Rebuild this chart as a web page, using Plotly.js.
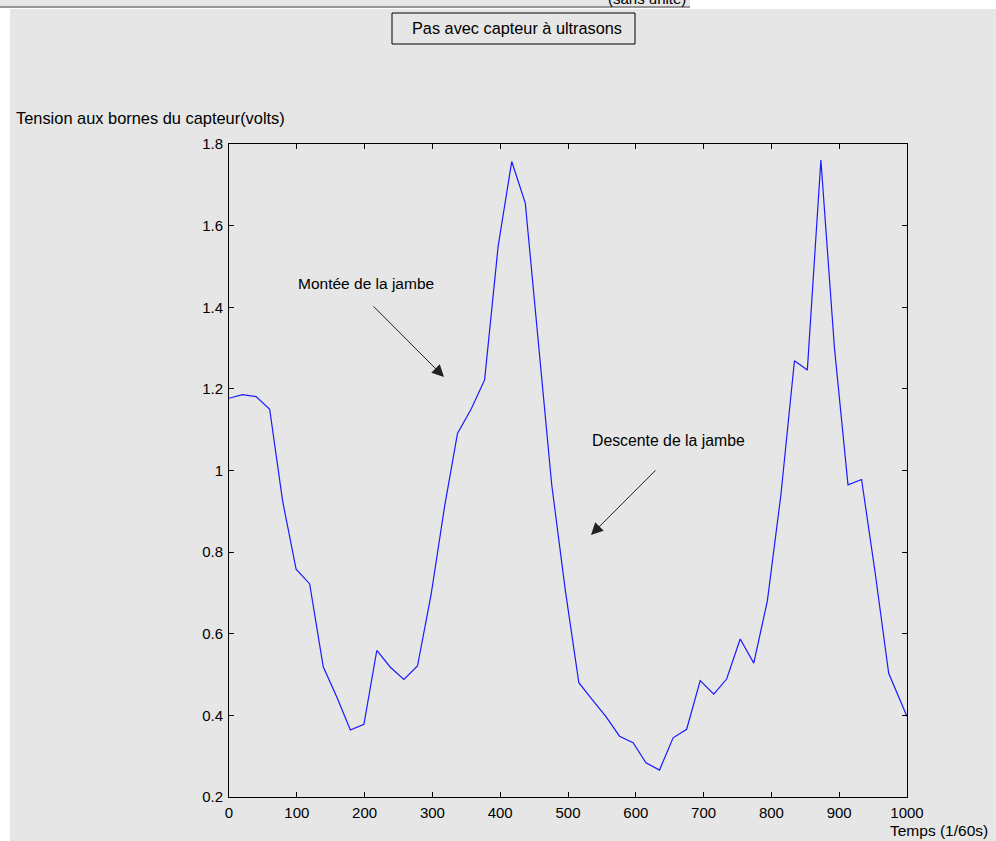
<!DOCTYPE html>
<html>
<head>
<meta charset="utf-8">
<script src="https://cdn.plot.ly/plotly-3.0.1.min.js"></script>
<style>html,body{margin:0;padding:0;background:#fff;}#chart{width:996px;height:841px;}</style>
</head>
<body>
<div id="chart"></div>
<script>
// ---- data ----
const timeValues = [0, 20, 40, 60, 79, 99, 119, 139, 159, 179, 199, 218, 238, 258, 278, 298, 318, 337, 357, 377,
  397, 417, 437, 457, 476, 496, 516, 536, 556, 576, 596, 615, 635, 655, 675, 695, 715, 734, 754, 774,
  794, 814, 834, 853, 873, 893, 913, 933, 953, 973, 1000];
const voltageValues = [1.177, 1.186, 1.181, 1.150, 0.926, 0.758, 0.722, 0.519, 0.445, 0.364, 0.378, 0.559, 0.518, 0.488, 0.521, 0.695, 0.912, 1.091, 1.150, 1.222,
  1.55, 1.757, 1.655, 1.30, 0.965, 0.707, 0.480, 0.438, 0.397, 0.349, 0.333, 0.284, 0.266, 0.345, 0.366, 0.485, 0.452, 0.489, 0.587, 0.528,
  0.68, 0.94, 1.269, 1.246, 1.761, 1.30, 0.965, 0.978, 0.75, 0.503, 0.397];
const xTickValues = [0, 100, 200, 300, 400, 500, 600, 700, 800, 900, 1000];
const xTickLabels = ["0", "100", "200", "300", "400", "500", "600", "700", "800", "900", "1000"];
const yTickValues = [0.2, 0.4, 0.6, 0.8, 1.0, 1.2, 1.4, 1.6, 1.8];
const yTickLabels = ["0.2", "0.4", "0.6", "0.8", "1", "1.2", "1.4", "1.6", "1.8"];
const chartTitle = "Pas avec capteur à ultrasons";
const yAxisTitle = "Tension aux bornes du capteur(volts)";
const xAxisTitle = "Temps (1/60s)";
const upLabel = "Montée de la jambe";
const downLabel = "Descente de la jambe";
const topCutLabel = "(sans unité)";

// ---- layout geometry ----
const W = 996, H = 841;
const L = 229, R = 907, T = 144, B = 797;
const px = x => (x - L) / (R - L);
const py = y => (B - y) / (B - T);
const FONT = '"Liberation Sans", Arial, sans-serif';
const GREY = '#e6e6e6';

const trace = {
  x: timeValues, y: voltageValues, type: 'scatter', mode: 'lines',
  line: {color: '#1a1aff', width: 1.2}, hoverinfo: 'skip'
};

const axisCommon = {
  showgrid: false, zeroline: false, showline: true, linecolor: '#000', linewidth: 1,
  mirror: 'ticks', ticks: 'inside', ticklen: 5, tickwidth: 1, tickcolor: '#000',
  tickfont: {family: FONT, size: 15, color: '#000'}, fixedrange: true
};

const layout = {
  width: W, height: H,
  margin: {l: L, r: W - R, t: T, b: H - B, pad: 0},
  paper_bgcolor: '#ffffff', plot_bgcolor: GREY,
  showlegend: false,
  xaxis: Object.assign({}, axisCommon, {range: [0, 1000], tickmode: 'array', tickvals: xTickValues, ticktext: xTickLabels, ticklabelstandoff: 2}),
  yaxis: Object.assign({}, axisCommon, {range: [0.2, 1.8], tickmode: 'array', tickvals: yTickValues, ticktext: yTickLabels, ticklabelstandoff: 2}),
  shapes: [
    {type: 'rect', xref: 'paper', yref: 'paper', layer: 'below', x0: px(10), x1: px(W), y0: py(9), y1: py(H), fillcolor: GREY, line: {width: 0}},
    {type: 'rect', xref: 'paper', yref: 'paper', layer: 'below', x0: px(0), x1: px(690), y0: py(0), y1: py(7), fillcolor: GREY, line: {width: 0}},
    {type: 'line', xref: 'paper', yref: 'paper', x0: px(0), x1: px(690), y0: py(7), y1: py(7), line: {color: '#777', width: 1.5}},
    {type: 'rect', xref: 'paper', yref: 'paper', x0: px(392), x1: px(635), y0: py(13), y1: py(44), line: {color: '#000', width: 1}}
  ],
  annotations: [
    {xref: 'paper', yref: 'paper', x: px(517), y: py(28), text: chartTitle, showarrow: false, xanchor: 'center', yanchor: 'middle', font: {family: FONT, size: 16.3, color: '#000'}},
    {xref: 'paper', yref: 'paper', x: px(688), y: py(-2), text: topCutLabel, showarrow: false, xanchor: 'right', yanchor: 'middle', font: {family: FONT, size: 15, color: '#000'}},
    {xref: 'paper', yref: 'paper', x: px(14), y: py(118), text: yAxisTitle, showarrow: false, xanchor: 'left', yanchor: 'middle', font: {family: FONT, size: 16.4, color: '#000'}},
    {xref: 'paper', yref: 'paper', x: px(990), y: py(830), text: xAxisTitle, showarrow: false, xanchor: 'right', yanchor: 'middle', font: {family: FONT, size: 15.5, color: '#000'}},
    {xref: 'paper', yref: 'paper', x: px(296), y: py(283), text: upLabel, showarrow: false, xanchor: 'left', yanchor: 'middle', font: {family: FONT, size: 15.5, color: '#000'}},
    {xref: 'paper', yref: 'paper', x: px(590), y: py(440), text: downLabel, showarrow: false, xanchor: 'left', yanchor: 'middle', font: {family: FONT, size: 15.8, color: '#000'}},
    {xref: 'x', yref: 'y', axref: 'x', ayref: 'y', x: 317.1, y: 1.229, ax: 210.9, ay: 1.406, text: '', showarrow: true, arrowhead: 2, arrowsize: 2.4, arrowwidth: 1, arrowcolor: '#222', standoff: 0, startstandoff: 0},
    {xref: 'x', yref: 'y', axref: 'x', ayref: 'y', x: 533.9, y: 0.842, ax: 631.3, ay: 1.004, text: '', showarrow: true, arrowhead: 2, arrowsize: 2.4, arrowwidth: 1, arrowcolor: '#222', standoff: 0, startstandoff: 0}
  ]
};

Plotly.newPlot('chart', [trace], layout, {displayModeBar: false, staticPlot: true});
</script>
</body>
</html>
